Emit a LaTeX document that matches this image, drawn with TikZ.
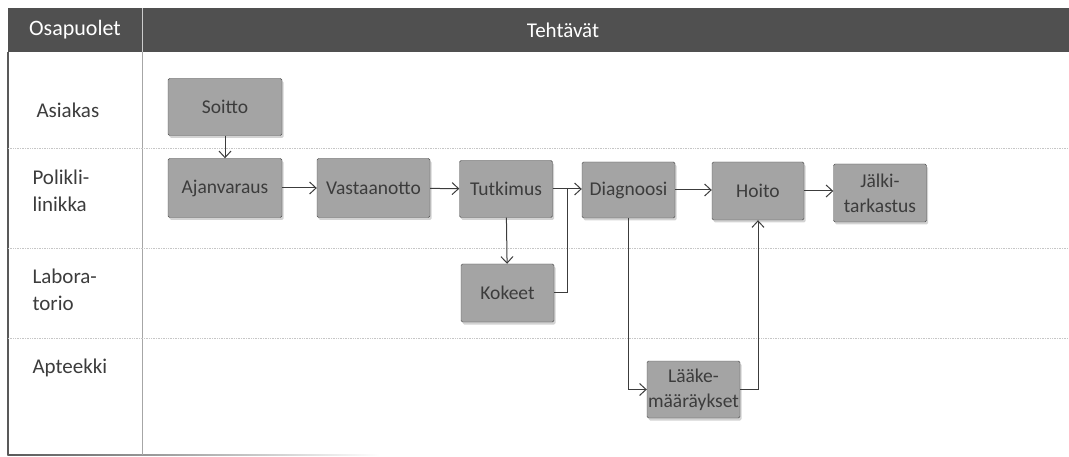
\documentclass[tikz,border=0pt]{standalone}
\usepackage{fontspec}
\setmainfont{Carlito}
\usetikzlibrary{shadows,arrows.meta}

\definecolor{hdrgray}{HTML}{505050}
\definecolor{boxgray}{HTML}{A4A4A4}
\definecolor{inkgray}{HTML}{3C3C3C}

\begin{document}
\begin{tikzpicture}[x=1pt,y=-1pt,
  task/.style={draw=gray!60!black,fill=boxgray,rounded corners=1.5pt,
    drop shadow={opacity=.35,shadow xshift=1.5pt,shadow yshift=-2.5pt},
    text=inkgray,font=\fontsize{19.5}{25}\selectfont,align=center,
    inner sep=0pt,minimum width=93pt,minimum height=57pt},
  lane/.style={anchor=west,align=left,text=inkgray,font=\fontsize{21}{27}\selectfont},
  hdr/.style={text=white,font=\fontsize{22}{26}\selectfont},
  flow/.style={-{Straight Barb[length=6.5pt,width=12pt,line width=1pt]},inkgray,line width=1pt}]
    \useasboundingbox (0,0) rectangle (1069,457);

    % header and frame
    \fill[hdrgray] (8,8) rectangle (1069,52);
    \draw[gray!40,line width=.8pt] (142,8) -- (142,52);
    \node[hdr] (parties) at (75,30) {Osapuolet};
    \node[hdr,font=\fontsize{21}{26}\selectfont] (tasks) at (563,30) {Tehtävät};
    \draw[gray!70!black,line width=1.4pt] (8,52) -- (8,455);
    \shade[left color=gray!70!black,right color=white] (7.3,454.3) rectangle (380,455.7);
    \draw[gray!70,line width=.8pt] (142,52) -- (142,455);
    \foreach \y in {148,248,338}
 {
 \draw[gray!45,line width=.7pt,densely dotted] (8,\y) -- (1069,\y);
    }

    % lanes
    \node[lane] (asiakas) at (33,110) {Asiakas};
    \node[lane] (poli) at (29,191) {Polikli-\\linikka};
    \node[lane] (labra) at (29,290) {Labora-\\torio};
    \node[lane] (apteekki) at (29,368) {Apteekki};

    % tasks
    \node[task,minimum width=114pt] (soitto) at (225,107) {Soitto};
    \node[task,minimum width=114pt,minimum height=59pt] (ajanvaraus) at (225,188) {Ajanvaraus};
    \node[task,minimum width=113pt,minimum height=59pt] (vastaanotto) at (373.5,188) {Vastaanotto};
    \node[task] (tutkimus) at (506,189) {Tutkimus};
    \node[task,minimum height=56pt] (diagnoosi) at (628.5,190) {Diagnoosi};
    \node[task,minimum width=92pt,minimum height=58pt] (hoito) at (758,191) {Hoito};
    \node[task,minimum height=58pt] (jalki) at (880,193) {Jälki-\\tarkastus};
    \node[task,minimum height=58pt] (kokeet) at (507.5,293) {Kokeet};
    \node[task] (laake) at (693.5,389.5) {Lääke-\\määräykset};

    % flows
    \draw[flow] (soitto) -- (ajanvaraus);
    \draw[flow] (ajanvaraus) -- (vastaanotto);
    \draw[flow] (vastaanotto) -- (tutkimus);
    \draw[flow] (tutkimus.east) -- (tutkimus.east -| diagnoosi.west);
    \draw[flow] (tutkimus) -- (kokeet);
    \draw[flow,-] (kokeet.east) -| ([xshift=15pt]tutkimus.east);
    \draw[flow] (diagnoosi.east) -- (diagnoosi.east -| hoito.west);
    \draw[flow] (hoito.east) -- (hoito.east -| jalki.west);
    \draw[flow] (diagnoosi.south) |- (laake.west);
    \draw[flow] (laake.east) -| (hoito.south);

    \end{tikzpicture}
\end{document}
